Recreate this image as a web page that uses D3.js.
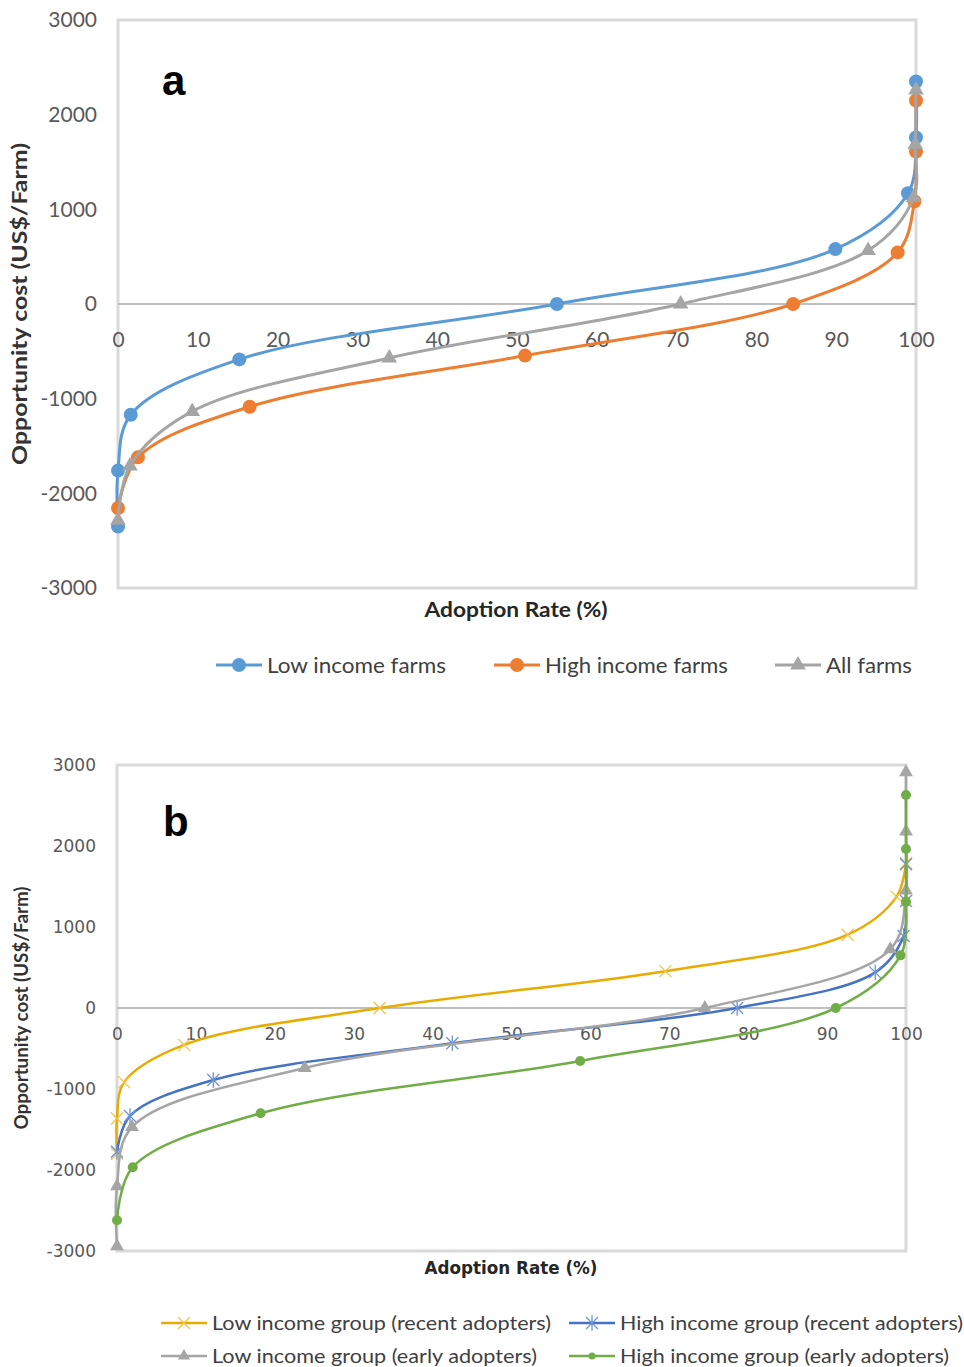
<!DOCTYPE html>
<html>
<head>
<meta charset="utf-8">
<script src="https://cdn.jsdelivr.net/npm/d3@7"></script>
<style>
  body { margin: 0; background: #fff; }
  svg { display: block; }
</style>
</head>
<body>
<svg width="964" height="1367"></svg>
<script>
// ---- data: panel a ----
var aLowX   = [0, 0, 1.6, 15.2, 55, 89.9, 99.0, 100, 100];
var aLowY   = [-2350, -1760, -1170, -585, 0, 580, 1170, 1760, 2350];
var aHighX  = [0, 2.5, 16.5, 51, 84.6, 97.7, 99.8, 100, 100];
var aHighY  = [-2155, -1620, -1085, -545, 0, 545, 1085, 1610, 2150];
var aAllX   = [0, 1.5, 9.3, 34, 70.5, 94, 99.7, 99.9, 100];
var aAllY   = [-2285, -1710, -1135, -570, 0, 565, 1125, 1685, 2260];

// ---- data: panel b ----
var bLowRecentX  = [0, 0, 0.9, 8.5, 33.3, 69.5, 92.6, 98.8, 100];
var bLowRecentY  = [-1800, -1365, -915, -455, 0, 455, 905, 1375, 1790];
var bHighRecentX = [0, 1.65, 12.2, 42.5, 78.6, 96.1, 99.7, 100, 100];
var bHighRecentY = [-1775, -1333, -889, -435, 0, 440, 889, 1320, 1775];
var bLowEarlyX   = [0, 0, 1.9, 23.8, 74.5, 98.0, 100, 100, 100];
var bLowEarlyY   = [-2940, -2200, -1470, -740, 0, 725, 1450, 2180, 2910];
var bHighEarlyX  = [0, 2.0, 18.2, 58.7, 91.1, 99.3, 100, 100, 100];
var bHighEarlyY  = [-2620, -1965, -1300, -654, 0, 650, 1310, 1963, 2630];

var yTicks = [-3000, -2000, -1000, 0, 1000, 2000, 3000];
var xTicks = [0, 10, 20, 30, 40, 50, 60, 70, 80, 90, 100];

var svg = d3.select("svg");

function zip(xs, ys) {
  return xs.map(function (x, i) { return { x: x, y: ys[i] }; });
}

// marker path for symbols that d3 doesn't have (excel style x / asterisk)
function markerPath(type, s) {
  if (type == "x") return "M" + (-s) + "," + (-s) + "L" + s + "," + s + "M" + (-s) + "," + s + "L" + s + "," + (-s);
  if (type == "asterisk") return markerPath("x", s) + "M0," + (-s * 1.3) + "L0," + (s * 1.3);
  if (type == "triangle") return d3.symbol(d3.symbolTriangle, s * s * 1.3)();
  return null;
}

function drawMarker(g, type, size, color) {
  if (type == "circle") {
    g.append("circle").attr("r", size).attr("fill", color);
  } else if (type == "triangle") {
    g.append("path").attr("d", markerPath(type, size)).attr("fill", color);
  } else {
    g.append("path").attr("d", markerPath(type, size))
      .attr("fill", "none").attr("stroke", color).attr("stroke-width", 1.3);
  }
}

function drawPanel(p) {
  var x = d3.scaleLinear().domain([0, 100]).range([p.left, p.right]);
  var y = d3.scaleLinear().domain([-3000, 3000]).range([p.bottom, p.top]);
  var g = svg.append("g");

  // plot frame
  g.append("rect")
    .attr("x", p.left).attr("y", p.top)
    .attr("width", p.right - p.left).attr("height", p.bottom - p.top)
    .attr("fill", "none").attr("stroke", "#d9d9d9").attr("stroke-width", 3);

  // zero line
  g.append("line")
    .attr("x1", p.left).attr("x2", p.right)
    .attr("y1", y(0)).attr("y2", y(0))
    .attr("stroke", "#bfbfbf").attr("stroke-width", 2);

  // axes (plain numbers, ascii minus like excel)
  var fmt = function (d) { return String(d); };
  var yAxis = g.append("g")
    .attr("transform", "translate(" + p.left + ",0)")
    .call(d3.axisLeft(y).tickValues(yTicks).tickFormat(fmt).tickSize(0).tickPadding(p.yPad));
  var xAxis = g.append("g")
    .attr("transform", "translate(0," + y(0) + ")")
    .call(d3.axisBottom(x).tickValues(xTicks).tickFormat(fmt).tickSize(0).tickPadding(p.xPad));
  [yAxis, xAxis].forEach(function (ax) {
    ax.select(".domain").remove();
    ax.selectAll("text")
      .attr("font-family", p.tickFont)
      .attr("font-size", p.tickSize)
      .attr("fill", "#595959");
  });

  // axis titles
  g.append("text")
    .attr("transform", "translate(" + p.yTitleX + "," + y(0) + ") rotate(-90)")
    .attr("text-anchor", "middle").attr("dy", "0.35em")
    .attr("font-family", p.yTitleFont).attr("font-weight", "bold")
    .attr("font-size", p.yTitleSize).attr("fill", "#333")
    .attr("textLength", p.yTitleLen).attr("lengthAdjust", "spacingAndGlyphs")
    .text("Opportunity cost (US$/Farm)");
  g.append("text")
    .attr("x", p.xTitleX).attr("y", p.xTitleY)
    .attr("text-anchor", "middle").attr("dy", "0.35em")
    .attr("font-family", p.xTitleFont).attr("font-weight", "bold")
    .attr("font-size", p.xTitleSize).attr("fill", "#262626")
    .attr("textLength", p.xTitleLen).attr("lengthAdjust", "spacingAndGlyphs")
    .text("Adoption Rate (%)");

  // panel letter
  g.append("text")
    .attr("x", p.letterX).attr("y", p.letterY)
    .attr("font-family", "Liberation Sans, Arial, sans-serif")
    .attr("font-weight", "bold").attr("font-size", p.letterSize)
    .text(p.letter);

  // series, smoothed like excel; centripetal spline keeps the steep ends from looping
  var line = d3.line()
    .x(function (d) { return x(d.x); })
    .y(function (d) { return y(d.y); })
    .curve(d3.curveCatmullRom.alpha(0.5));

  p.series.forEach(function (s) {
    var data = zip(s.xs, s.ys);
    g.append("path")
      .datum(data)
      .attr("d", line)
      .attr("fill", "none")
      .attr("stroke", s.color)
      .attr("stroke-width", p.lineWidth);
    g.append("g").selectAll("g")
      .data(data)
      .enter().append("g")
      .attr("transform", function (d) { return "translate(" + x(d.x) + "," + y(d.y) + ")"; })
      .each(function () {
        drawMarker(d3.select(this), s.marker, s.markerSize, s.markerColor || s.color);
      });
  });

  // legend
  p.series.forEach(function (s) {
    var lg = g.append("g")
      .attr("transform", "translate(" + s.legX + "," + s.legY + ")");
    lg.append("line")
      .attr("x1", 0).attr("x2", 46)
      .attr("stroke", s.color).attr("stroke-width", p.lineWidth);
    var mg = lg.append("g").attr("transform", "translate(23,0)");
    drawMarker(mg, s.marker, s.legMarkerSize || s.markerSize, s.markerColor || s.color);
    lg.append("text")
      .attr("x", 51).attr("dy", "0.35em")
      .attr("font-family", "Lato, sans-serif")
      .attr("font-size", p.legSize).attr("fill", "#404040")
      .attr("textLength", s.legLen).attr("lengthAdjust", "spacingAndGlyphs")
      .text(s.name);
  });
}

drawPanel({
  left: 118, right: 916, top: 20, bottom: 588,
  tickFont: "Lato, sans-serif", tickSize: 21, yPad: 21, xPad: 28,
  yTitleX: 20, yTitleFont: "Lato, sans-serif", yTitleSize: 21, yTitleLen: 322,
  xTitleX: 516, xTitleY: 610, xTitleFont: "Lato, sans-serif", xTitleSize: 21, xTitleLen: 183,
  letter: "a", letterX: 162, letterY: 95, letterSize: 42,
  lineWidth: 3, legSize: 22,
  series: [
    { name: "Low income farms", xs: aLowX, ys: aLowY, color: "#5b9bd5", marker: "circle", markerSize: 7,
      legX: 216, legY: 665, legLen: 179 },
    { name: "High income farms", xs: aHighX, ys: aHighY, color: "#ed7d31", marker: "circle", markerSize: 7,
      legX: 494, legY: 665, legLen: 183 },
    { name: "All farms", xs: aAllX, ys: aAllY, color: "#a5a5a5", marker: "triangle", markerSize: 9,
      legX: 775, legY: 665, legLen: 86 }
  ]
});

drawPanel({
  left: 117, right: 906, top: 765, bottom: 1251,
  tickFont: "DejaVu Sans, sans-serif", tickSize: 17, yPad: 21, xPad: 20,
  yTitleX: 22, yTitleFont: "Lato, sans-serif", yTitleSize: 18, yTitleLen: 243,
  xTitleX: 511, xTitleY: 1268, xTitleFont: "DejaVu Sans, sans-serif", xTitleSize: 17, xTitleLen: 173,
  letter: "b", letterX: 163, letterY: 836, letterSize: 42,
  lineWidth: 2.5, legSize: 20,
  series: [
    { name: "Low income group (recent adopters)", xs: bLowRecentX, ys: bLowRecentY, color: "#e8ac00", markerColor: "#f5c24a",
      marker: "x", markerSize: 6, legX: 161, legY: 1323, legLen: 339 },
    { name: "High income group (recent adopters)", xs: bHighRecentX, ys: bHighRecentY, color: "#4472c4", markerColor: "#6f93d6",
      marker: "asterisk", markerSize: 6, legX: 569, legY: 1323, legLen: 343 },
    { name: "Low income group (early adopters)", xs: bLowEarlyX, ys: bLowEarlyY, color: "#a5a5a5",
      marker: "triangle", markerSize: 8, legMarkerSize: 7, legX: 161, legY: 1356, legLen: 325 },
    { name: "High income group (early adopters)", xs: bHighEarlyX, ys: bHighEarlyY, color: "#70ad47",
      marker: "circle", markerSize: 5, legMarkerSize: 3.5, legX: 569, legY: 1356, legLen: 329 }
  ]
});
</script>
</body>
</html>
